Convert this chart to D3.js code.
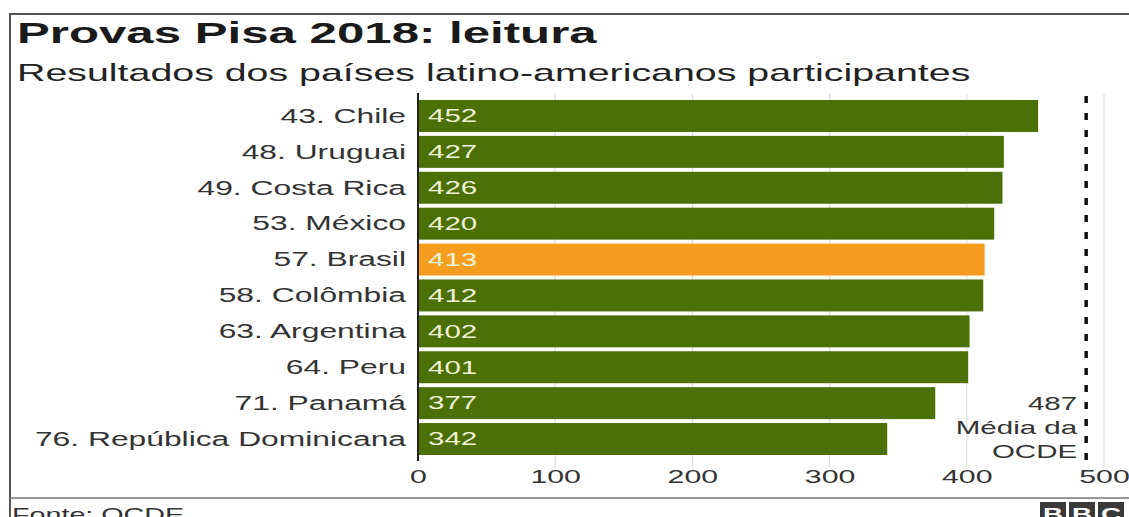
<!DOCTYPE html>
<html>
<head>
<meta charset="utf-8">
<script src="https://cdn.jsdelivr.net/npm/d3@7"></script>
<style>
  body { margin: 0; background: #fff; }
  svg text { font-family: "Liberation Sans", Arial, sans-serif; }
</style>
</head>
<body>
<div id="chart"></div>
<script>
const countries = ['43. Chile', '48. Uruguai', '49. Costa Rica', '53. México', '57. Brasil',
    '58. Colômbia', '63. Argentina', '64. Peru', '71. Panamá', '76. República Dominicana'];
const scores = [452, 427, 426, 420, 413, 412, 402, 401, 377, 342];
const highlight = '57. Brasil';
const oecdAverage = 487;
const xTicks = [0, 100, 200, 300, 400, 500];
const oecdLabel = ['487', 'Média da', 'OCDE'];

const width = 1129, height = 517;
const green = '#4b7005', orange = '#f59d1e';
// the source picture is stretched sideways, so text is too
const sx = 1.64;

const svg = d3.select('#chart').append('svg')
    .attr('width', width)
    .attr('height', height);

// places a text at (px, py) and widens it
function addText(parent, px, py, str) {
    return parent.append('text')
        .attr('transform', `translate(${px},${py}) scale(${sx},1)`)
        .text(str);
}

// frame
svg.append('path')
    .attr('d', `M10,${height} V14 H${width}`)
    .attr('fill', 'none')
    .attr('stroke', '#555')
    .attr('stroke-width', 2);

svg.append('line')
    .attr('x1', 10).attr('x2', width)
    .attr('y1', 498).attr('y2', 498)
    .attr('stroke', '#777')
    .attr('stroke-width', 1.5);

addText(svg, 17, 43, 'Provas Pisa 2018: leitura')
    .style('font-size', '30px')
    .style('font-weight', 'bold')
    .attr('fill', '#1a1a1a');

addText(svg, 17, 81, 'Resultados dos países latino-americanos participantes')
    .style('font-size', '24px')
    .attr('fill', '#222');

const x = d3.scaleLinear()
    .domain([0, 500])
    .range([418, 1104]);

const y = d3.scaleBand()
    .domain(countries)
    .range([100, 455])
    .paddingInner(0.11);

// gridlines
svg.append('g')
    .selectAll('line')
    .data(xTicks.slice(1))
    .enter().append('line')
    .attr('x1', d => x(d)).attr('x2', d => x(d))
    .attr('y1', 94).attr('y2', 468)
    .attr('stroke', '#d6d6d6')
    .attr('stroke-width', 1);

// bars
svg.append('g')
    .selectAll('rect')
    .data(countries)
    .enter().append('rect')
    .attr('x', x(0))
    .attr('y', d => y(d))
    .attr('width', (d, i) => x(scores[i]) - x(0))
    .attr('height', y.bandwidth())
    .attr('fill', d => d === highlight ? orange : green);

// value labels
const valueG = svg.append('g');
countries.forEach((c, i) => {
    addText(valueG, x(0) + 10, y(c) + y.bandwidth() / 2, scores[i])
        .attr('dy', '0.35em')
        .style('font-size', '18px')
        .attr('fill', '#eef3d6');
});

// category labels
const labelG = svg.append('g');
countries.forEach(c => {
    addText(labelG, x(0) - 12, y(c) + y.bandwidth() / 2, c)
        .attr('dy', '0.35em')
        .attr('text-anchor', 'end')
        .style('font-size', '19.4px')
        .attr('fill', '#333');
});

// axis
const axis = svg.append('g')
    .attr('transform', 'translate(0, 462)')
    .call(d3.axisBottom(x).tickValues(xTicks).tickSize(0).tickPadding(8));
axis.select('.domain').remove();
axis.selectAll('text')
    .attr('transform', `scale(${sx},1)`)
    .style('font-size', '18.5px')
    .style('font-family', '"Liberation Sans", Arial, sans-serif')
    .attr('fill', '#333');

svg.append('line')
    .attr('x1', x(0)).attr('x2', x(0))
    .attr('y1', 93).attr('y2', 461)
    .attr('stroke', '#222')
    .attr('stroke-width', 2);

// OECD average
svg.append('line')
    .attr('x1', x(oecdAverage)).attr('x2', x(oecdAverage))
    .attr('y1', 96).attr('y2', 468)
    .attr('stroke', '#111')
    .attr('stroke-width', 3.5)
    .attr('stroke-dasharray', '7,10');

const oecdG = svg.append('g');
oecdLabel.forEach((t, i) => {
    addText(oecdG, x(oecdAverage) - 9, 410 + i * 24, t)
        .attr('text-anchor', 'end')
        .style('font-size', '18px')
        .attr('fill', '#333');
});

// footer
addText(svg, 12, 521, 'Fonte: OCDE')
    .style('font-size', '17.5px')
    .attr('fill', '#333');

const logo = svg.append('g');
['B', 'B', 'C'].forEach((letter, i) => {
    logo.append('rect')
        .attr('x', 1040 + i * 29).attr('y', 502)
        .attr('width', 26).attr('height', 20)
        .attr('fill', '#3a3a3a');
    addText(logo, 1040 + i * 29 + 13, 520, letter)
        .attr('text-anchor', 'middle')
        .style('font-size', '17px')
        .style('font-weight', 'bold')
        .attr('fill', '#fff');
});
</script>
</body>
</html>
